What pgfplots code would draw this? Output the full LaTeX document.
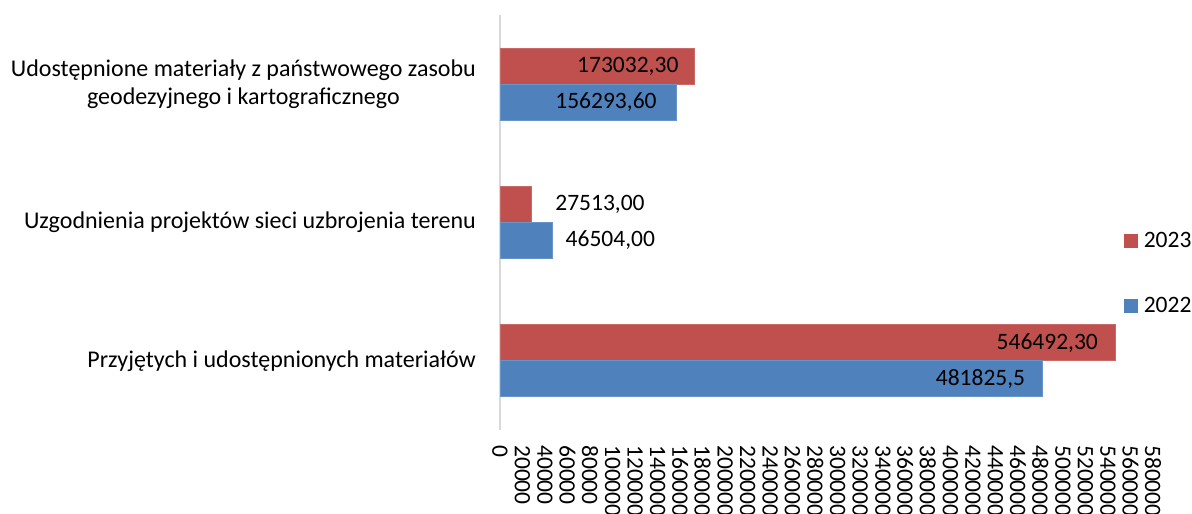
\documentclass[border=0pt]{standalone}
\usepackage{pgfplots}
\pgfplotsset{compat=1.18}
\usepackage{pgfplotstable}
\usepackage{fontspec}
\setmainfont{Carlito}
\definecolor{red23}{HTML}{C0504D}
\definecolor{blue22}{HTML}{4F81BD}
\definecolor{axgray}{HTML}{D9D9D9}
\newcommand{\lblfont}{\fontsize{24bp}{28bp}\selectfont}
\newcommand{\numfont}{\fontsize{23.5bp}{28bp}\selectfont}

\pgfplotstableread{
y x label dx
0 546492.3 546492,30 -68
1 27513 27513,00 69
2 173032.3 173032,30 -67
}\dataA

\pgfplotstableread{
y x label dx
0 481825.5 481825,5 -62
1 46504 46504,00 58
2 156293.6 156293,60 -70
}\dataB

\begin{document}
\begin{tikzpicture}
\useasboundingbox (0,0) rectangle (1192bp,514bp);
\begin{axis}[
  at={(500bp,84bp)}, anchor=south west,
  scale only axis,
  width=653bp, height=415bp,
  xbar,
  xmin=0, xmax=580000,
  ymin=-0.5, ymax=2.5,
  bar width=0.26,
  xtick={0,20000,40000,60000,80000,100000,120000,140000,160000,180000,200000,220000,240000,260000,280000,300000,320000,340000,360000,380000,400000,420000,440000,460000,480000,500000,520000,540000,560000,580000},
  scaled x ticks=false,
  xticklabel style={rotate=-90, anchor=west, inner sep=0pt, xshift=15bp, font=\numfont,
    /pgf/number format/.cd, fixed, set thousands separator={}, assume math mode=true},
  ytick={0,1,2},
  yticklabels={Przyjętych i udostępnionych materiałów, Uzgodnienia projektów sieci uzbrojenia terenu, {Udostępnione materiały z państwowego zasobu\\geodezyjnego i kartograficznego}},
  yticklabel style={anchor=east, align=center, inner sep=0pt, xshift=-24bp, font=\lblfont},
  major tick length=0pt,
  tick style={draw=none},
  axis x line=bottom,
  axis y line=left,
  x axis line style={draw=none},
  y axis line style={draw=axgray, line width=2bp, -},
  clip=false,
  nodes near coords,
  point meta=explicit symbolic,
  visualization depends on={\thisrow{dx} \as \dx},
  every node near coord/.append style={anchor=center, xshift=\dx*1bp, font=\numfont, text=black, inner sep=0pt},
  legend style={at={(rel axis cs:0.9556,0.477)}, anchor=north west, draw=none, fill=none,
    inner sep=0pt, outer sep=0pt, nodes={inner sep=0pt, anchor=base west}, column sep=6bp, row sep=48bp, font=\numfont},
  legend cell align=left,
]
\addplot[fill=red23, draw=red23!85!white, line width=0.8bp, bar shift=0.13,
  legend image code/.code={\fill[red23] (0bp,0bp) rectangle (13bp,13bp);}]
  table[x=x, y=y, meta=label] {\dataA};
\addlegendentry{2023}
\addplot[fill=blue22, draw=blue22!85!white, line width=0.8bp, bar shift=-0.13,
  legend image code/.code={\fill[blue22] (0bp,0bp) rectangle (13bp,13bp);}]
  table[x=x, y=y, meta=label] {\dataB};
\addlegendentry{2022}
\end{axis}
\end{tikzpicture}
\end{document}
